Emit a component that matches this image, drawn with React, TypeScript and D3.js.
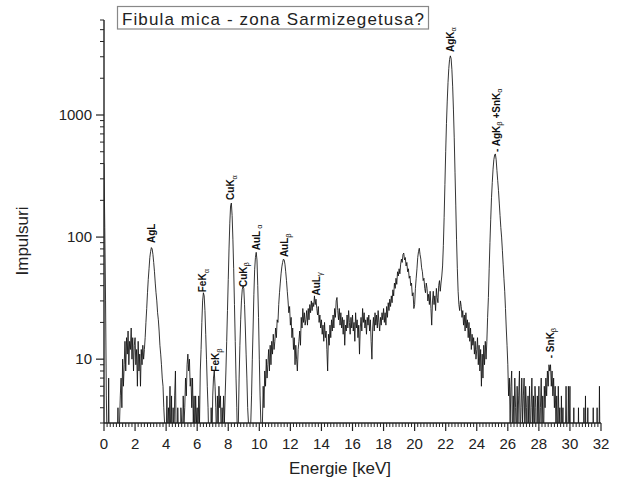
import React from 'react';
import * as d3 from 'd3';

// Spectrum: counts per 0.05 keV channel, 0.00 .. 32.00 keV (one row = 1 keV)
const channelStepKeV = 0.05;
const counts00to03 = [
  400, 120, 30, 5, 2, 1, 7, 1, 1, 2, 1, 1, 2, 1, 1, 1, 1, 2, 4, 1,
  3, 5, 7, 4, 10, 6, 9, 14, 8, 15, 11, 17, 9, 14, 12, 18, 10, 15, 8, 13,
  15, 9, 12, 6, 14, 8, 11, 6, 12, 9, 13, 10, 12, 15, 20, 26, 35, 45, 55, 68,
  76, 82, 80, 72, 62, 52, 42, 35, 30, 24, 21, 17, 13, 11, 9, 7, 6, 4, 3, 2,
];
const counts04to07 = [
  2, 5, 2, 4, 3, 6, 2, 5, 1, 4, 2, 5, 8, 2, 1, 4, 2, 3, 1, 4,
  3, 2, 5, 3, 4, 7, 5, 9, 11, 8, 10, 6, 7, 4, 7, 3, 5, 2, 5, 3,
  4, 2, 5, 3, 8, 12, 20, 30, 35, 33, 25, 16, 10, 6, 4, 2, 3, 1, 4, 2,
  5, 7, 8, 6, 4, 2, 5, 3, 6, 4, 5, 2, 4, 3, 5, 3, 5, 8, 14, 25,
];
const counts08to11 = [
  45, 80, 130, 180, 190, 150, 95, 55, 28, 14, 7, 4, 2, 3, 7, 13, 21, 30, 37, 40,
  38, 28, 18, 11, 7, 4, 3, 2, 2, 3, 5, 10, 18, 34, 54, 68, 75, 65, 40, 22,
  10, 5, 3, 2, 3, 6, 4, 8, 6, 10, 7, 9, 12, 8, 13, 9, 14, 11, 16, 12,
  14, 18, 15, 21, 20, 28, 35, 42, 50, 57, 62, 66, 65, 60, 52, 44, 36, 30, 24, 27,
];
const counts12to15 = [
  19, 22, 15, 18, 12, 15, 9, 13, 10, 8, 12, 14, 17, 13, 22, 18, 26, 20, 24, 19,
  21, 25, 19, 26, 21, 28, 24, 30, 25, 29, 27, 33, 28, 31, 26, 23, 27, 20, 23, 18,
  21, 16, 19, 14, 20, 15, 17, 12, 8, 16, 13, 19, 15, 21, 17, 23, 18, 26, 22, 30,
  32, 25, 21, 26, 19, 24, 18, 22, 16, 21, 13, 19, 17, 23, 18, 25, 20, 16, 22, 18,
];
const counts16to19 = [
  23, 17, 20, 14, 24, 18, 21, 15, 19, 11, 18, 22, 17, 26, 20, 24, 18, 21, 16, 22,
  19, 23, 17, 21, 14, 10, 18, 22, 17, 24, 19, 23, 18, 25, 20, 17, 22, 19, 24, 21,
  26, 20, 24, 19, 27, 22, 29, 25, 31, 27, 33, 29, 37, 33, 42, 38, 46, 41, 52, 48,
  55, 50, 60, 66, 62, 72, 74, 65, 68, 58, 62, 52, 55, 46, 48, 40, 42, 33, 35, 26,
];
const counts20to23 = [
  28, 38, 46, 55, 68, 76, 81, 72, 66, 56, 52, 44, 46, 38, 35, 42, 38, 30, 34, 28,
  36, 26, 19, 30, 36, 28, 33, 25, 38, 32, 29, 40, 44, 36, 42, 48, 58, 85, 145, 270,
  500, 850, 1300, 1850, 2400, 2850, 3050, 2900, 2350, 1700, 1100, 650, 340, 180, 95, 55, 36, 28, 25, 30,
  27, 22, 25, 19, 23, 17, 24, 18, 21, 15, 20, 14, 18, 12, 16, 13, 15, 11, 14, 10,
];
const counts24to27 = [
  12, 15, 9, 13, 8, 12, 6, 11, 7, 13, 9, 14, 10, 14, 22, 32, 55, 90, 140, 210,
  280, 360, 430, 470, 480, 430, 350, 290, 240, 190, 150, 120, 100, 78, 60, 46, 36, 26, 18, 13,
  9, 5, 7, 3, 6, 8, 2, 5, 3, 7, 4, 2, 6, 3, 5, 8, 2, 4, 7, 3,
  5, 7, 2, 6, 4, 1, 5, 3, 6, 2, 4, 7, 3, 5, 2, 6, 4, 1, 5, 3,
];
const counts28to32 = [
  6, 2, 4, 7, 3, 5, 2, 6, 4, 7, 5, 8, 6, 9, 8, 9, 6, 8, 5, 7,
  4, 6, 3, 5, 2, 6, 3, 4, 1, 5, 2, 4, 1, 3, 2, 6, 2, 1, 6, 2,
  6, 1, 2, 1, 1, 4, 1, 1, 2, 1, 1, 4, 1, 1, 2, 1, 1, 1, 4, 1,
  5, 1, 1, 4, 1, 1, 2, 1, 1, 1, 4, 1, 1, 2, 1, 4, 1, 1, 6, 1,
  2,
];
const counts = [
  ...counts00to03, ...counts04to07, ...counts08to11, ...counts12to15,
  ...counts16to19, ...counts20to23, ...counts24to27, ...counts28to32,
];

// Axis ticks
const xTickValues = [0, 2, 4, 6, 8, 10, 12, 14, 16, 18, 20, 22, 24, 26, 28, 30, 32];
const yTickValues = [10, 100, 1000];

// Peak labels: segments [text, isSubscript]
const peakLabels: [string, number][][] = [
  [['AgL', 0]],
  [['FeK', 0], ['α', 1]],
  [['FeK', 0], ['β', 1]],
  [['CuK', 0], ['α', 1]],
  [['CuK', 0], ['β', 1]],
  [['AuL', 0], [' α', 1]],
  [['AuL', 0], ['β', 1]],
  [['AuL', 0], ['γ', 1]],
  [['AgK', 0], ['α', 1]],
  [['- AgK', 0], ['β', 1], [' +SnK', 0], ['α', 1]],
  [['- SnK', 0], ['β', 1]],
];
const peakLabelEnergy = [3.07, 6.37, 7.2, 8.16, 8.95, 9.79, 11.65, 13.65, 22.28, 25.24, 28.72];
const peakLabelCount = [86, 34, 7.6, 194, 37.5, 75, 66, 32, 3160, 479, 9.8];

const titleText = 'Fibula mica - zona Sarmizegetusa?';
const xTitle = 'Energie [keV]';
const yTitle = 'Impulsuri';

export default function App() {
  const W = 618, H = 489;
  const left = 104, right = 601, top = 20, bottom = 423;
  const x = d3.scaleLinear().domain([0, 32]).range([left, right]);
  const y = d3.scaleLog().domain([3, 6000]).range([bottom, top]);
  const data: [number, number][] = counts.map((c, i) => [i * channelStepKeV, c]);
  const line = d3.line<[number, number]>()
    .x(d => x(d[0]))
    .y(d => y(Math.max(d[1], 1)));

  const xMinor: number[] = [];
  for (let i = 0; i <= 160; i++) {
    const v = i * 0.2;
    if (i % 10 !== 0) xMinor.push(v);
  }
  const yMinor: number[] = [];
  [1, 10, 100, 1000].forEach(d => {
    for (let m = 2; m <= 9; m++) {
      const v = d * m;
      if (v >= 3 && v <= 6000) yMinor.push(v);
    }
  });

  const font = "Arial, 'Liberation Sans', sans-serif";
  const axisColor = '#222';

  return (
    <svg width={W} height={H} style={{ position: 'absolute', left: 0, top: 0, background: '#fff' }}
      xmlns="http://www.w3.org/2000/svg">
      <rect x={0} y={0} width={W} height={H} fill="#fff" />
      <defs>
        <clipPath id="plotClip">
          <rect x={left} y={0} width={right - left + 2} height={bottom} />
        </clipPath>
      </defs>

      <path d={line(data) || ''} fill="none" stroke="#111" strokeWidth={0.85}
        strokeLinejoin="miter" clipPath="url(#plotClip)" />

      {/* axes */}
      <line x1={left} x2={left} y1={top} y2={bottom} stroke={axisColor} strokeWidth={1.4} />
      <line x1={left} x2={right} y1={bottom} y2={bottom} stroke={axisColor} strokeWidth={1.4} />

      {xMinor.map(v => (
        <line key={'xm' + v} x1={x(v)} x2={x(v)} y1={bottom} y2={bottom + 4} stroke={axisColor} strokeWidth={1} />
      ))}
      {xTickValues.map(v => (
        <g key={'xt' + v}>
          <line x1={x(v)} x2={x(v)} y1={bottom} y2={bottom + 8} stroke={axisColor} strokeWidth={1.2} />
          <text x={x(v)} y={449} textAnchor="middle" fontSize={15} fontFamily={font} fill="#222">{v}</text>
        </g>
      ))}
      {yMinor.map(v => (
        <line key={'ym' + v} x1={left - 4} x2={left} y1={y(v)} y2={y(v)} stroke={axisColor} strokeWidth={1} />
      ))}
      {yTickValues.map(v => (
        <g key={'yt' + v}>
          <line x1={left - 8} x2={left} y1={y(v)} y2={y(v)} stroke={axisColor} strokeWidth={1.2} />
          <text x={92} y={y(v) + 5} textAnchor="end" fontSize={15} fontFamily={font} fill="#222">{v}</text>
        </g>
      ))}

      {/* axis titles */}
      <text x={340} y={474} textAnchor="middle" fontSize={17} fontFamily={font} fill="#222">{xTitle}</text>
      <text transform={`translate(28, 241) rotate(-90)`} textAnchor="middle" fontSize={17}
        fontFamily={font} fill="#222">{yTitle}</text>

      {/* title box */}
      <rect x={117.5} y={6.5} width={311} height={22.5} fill="#fff" stroke="#888" strokeWidth={1.2} />
      <text x={122} y={24.5} fontSize={17} fontFamily={font} fill="#222"
        textLength={302} lengthAdjust="spacing">{titleText}</text>

      {/* peak labels */}
      {peakLabels.map((segs, i) => {
        const px = x(peakLabelEnergy[i]) + 3.5;
        const py = y(peakLabelCount[i]) - 2;
        return (
          <text key={'pl' + i} transform={`translate(${px}, ${py}) rotate(-90)`} fontSize={10}
            fontWeight="bold" fontFamily={font} fill="#111">
            {segs.map(([t, sub], j) => {
              const prevSub = j > 0 ? segs[j - 1][1] : 0;
              const dy = sub && !prevSub ? 2.5 : (!sub && prevSub ? -2.5 : 0);
              return (
                <tspan key={j} dy={dy} fontSize={sub ? 7.5 : 10} fontWeight={sub ? 'normal' : 'bold'}>{t}</tspan>
              );
            })}
          </text>
        );
      })}
    </svg>
  );
}
